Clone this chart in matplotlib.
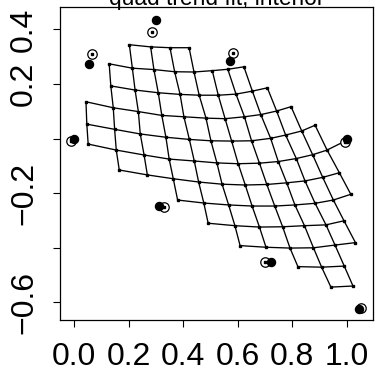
import matplotlib
matplotlib.use("Agg")
import matplotlib.pyplot as plt

plt.rcParams['font.family'] = ['Liberation Sans', 'DejaVu Sans']

# landmark points: filled = target, open = fitted (drawn with a centre dot)
filled_x = [0.055, 0.300, 0.572, 0.000, 1.002, 0.313, 0.721, 1.046]
filled_y = [0.273, 0.434, 0.284, -0.003, -0.003, -0.246, -0.453, -0.624]
open_x = [0.067, 0.287, 0.582, -0.012, 0.994, 0.330, 0.700, 1.052]
open_y = [0.309, 0.390, 0.315, -0.008, -0.011, -0.252, -0.451, -0.619]

# warped grid, read row by row (top to bottom); row_start = first column index
row_start = [3, 2, 2, 1, 1, 1, 2, 4, 5, 6, 8, 9]
row_x = [
    [0.203, 0.281, 0.352, 0.422],
    [0.129, 0.214, 0.293, 0.369, 0.440, 0.507, 0.564, 0.623],
    [0.135, 0.224, 0.309, 0.389, 0.459, 0.529, 0.594, 0.654, 0.709],
    [0.044, 0.144, 0.236, 0.322, 0.403, 0.484, 0.554, 0.625, 0.685, 0.743, 0.796],
    [0.047, 0.149, 0.243, 0.337, 0.423, 0.502, 0.578, 0.651, 0.721, 0.776, 0.835, 0.884],
    [0.052, 0.155, 0.257, 0.349, 0.441, 0.524, 0.602, 0.680, 0.749, 0.815, 0.875, 0.928, 0.982],
    [0.166, 0.269, 0.364, 0.457, 0.543, 0.628, 0.707, 0.780, 0.847, 0.912, 0.973],
    [0.380, 0.476, 0.567, 0.653, 0.736, 0.810, 0.884, 0.951, 1.015],
    [0.492, 0.590, 0.680, 0.765, 0.845, 0.924, 0.990],
    [0.609, 0.704, 0.792, 0.878, 0.957, 1.032],
    [0.821, 0.908, 0.991],
    [0.942, 1.023],
]
row_y = [
    [0.344, 0.336, 0.333, 0.333],
    [0.274, 0.258, 0.253, 0.245, 0.244, 0.249, 0.254, 0.263],
    [0.193, 0.178, 0.168, 0.162, 0.159, 0.159, 0.163, 0.174, 0.186],
    [0.135, 0.113, 0.099, 0.085, 0.080, 0.075, 0.073, 0.080, 0.088, 0.101, 0.117],
    [0.053, 0.034, 0.017, 0.005, -0.003, -0.008, -0.009, -0.008, 0.001, 0.013, 0.028, 0.049],
    [-0.020, -0.042, -0.060, -0.075, -0.082, -0.089, -0.092, -0.090, -0.084, -0.073, -0.059, -0.042, -0.015],
    [-0.115, -0.133, -0.147, -0.159, -0.167, -0.170, -0.168, -0.162, -0.155, -0.142, -0.125],
    [-0.225, -0.236, -0.243, -0.247, -0.247, -0.243, -0.237, -0.225, -0.204],
    [-0.310, -0.319, -0.324, -0.323, -0.319, -0.316, -0.301],
    [-0.392, -0.398, -0.401, -0.400, -0.390, -0.381],
    [-0.469, -0.471, -0.467],
    [-0.544, -0.540],
]

x_ticks = [0.0, 0.2, 0.4, 0.6, 0.8, 1.0]
x_labels = ["0.0", "0.2", "0.4", "0.6", "0.8", "1.0"]
y_ticks = [-0.6, -0.4, -0.2, 0.0, 0.2, 0.4]
y_labels = ["\u22120.6", "", "\u22120.2", "", "0.2", "0.4"]

fig = plt.figure(figsize=(3.75, 3.77), dpi=100)
ax = fig.add_axes([0.16, 0.1512, 0.8347, 0.8294])

# rows
for xs, ys in zip(row_x, row_y):
    ax.plot(xs, ys, color='k', lw=0.95, zorder=2)

# columns: join the same column index in consecutive rows
ncol = max(s + len(xs) for s, xs in zip(row_start, row_x))
for c in range(1, ncol):
    seg_x, seg_y = [], []
    for s, xs, ys in zip(row_start, row_x, row_y):
        if s <= c < s + len(xs):
            seg_x.append(xs[c - s])
            seg_y.append(ys[c - s])
        else:
            if len(seg_x) > 1:
                ax.plot(seg_x, seg_y, color='k', lw=0.95, zorder=2)
            seg_x, seg_y = [], []
    if len(seg_x) > 1:
        ax.plot(seg_x, seg_y, color='k', lw=0.95, zorder=2)

# grid nodes
for xs, ys in zip(row_x, row_y):
    ax.plot(xs, ys, 's', color='k', ms=2.1, zorder=3)

ax.plot(open_x, open_y, 'o', mfc='white', mec='k', mew=0.9, ms=6.8, zorder=4)
ax.plot(open_x, open_y, 's', color='k', ms=2.0, zorder=4)
ax.plot(filled_x, filled_y, 'o', color='k', ms=5.8, zorder=5)

ax.set_xlim(-0.0513, 1.0964)
ax.set_ylim(-0.6645, 0.481)
ax.set_xticks(x_ticks)
ax.set_xticklabels(x_labels, fontsize=23)
ax.set_yticks(y_ticks)
ax.set_yticklabels(y_labels, fontsize=23, rotation=90, va='center')
ax.tick_params(axis='both', direction='out', length=5, width=0.8, color='k')
ax.tick_params(axis='x', pad=11)
ax.tick_params(axis='y', pad=10)
for sp in ax.spines.values():
    sp.set_linewidth(0.9)

fig.text(0.5773, 1 - 5 / 377, "quad trend fit, interior", fontsize=16.4,
         ha='center', va='baseline')

fig.savefig("out.png", dpi=100)
